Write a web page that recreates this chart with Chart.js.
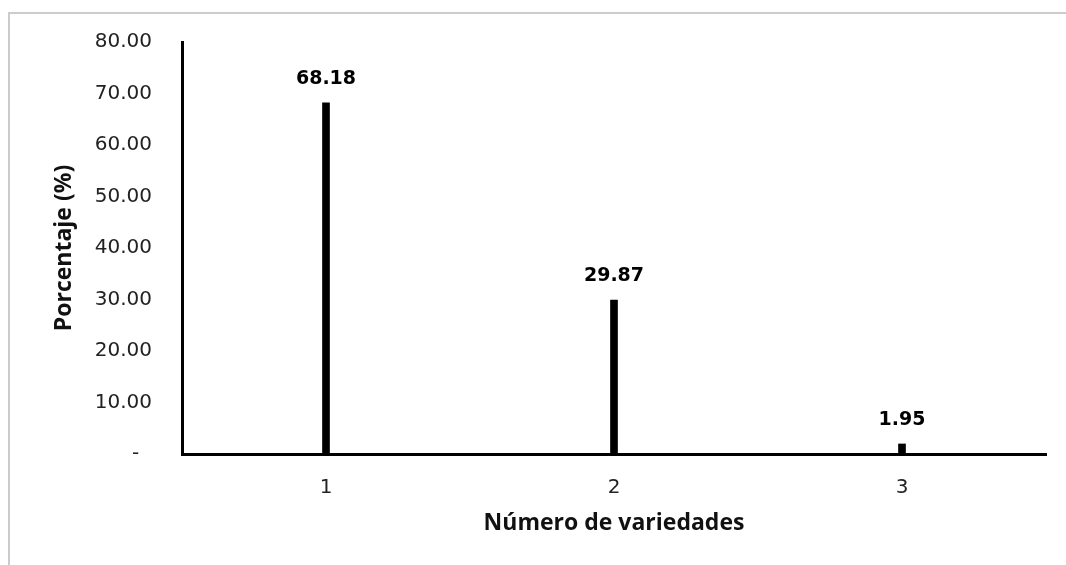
<!DOCTYPE html>
<html>
<head>
<meta charset="utf-8">
<script src="https://cdn.jsdelivr.net/npm/chart.js@4.4.1/dist/chart.umd.min.js"></script>
<style>
  body { margin: 0; background: #fff; }
  #wrap { width: 1066px; height: 565px; position: relative; }
</style>
</head>
<body>
<div id="wrap"><canvas id="myChart"></canvas></div>
<script>
// data
const categories = ['1', '2', '3'];
const percentages = [68.18, 29.87, 1.95];
const yMax = 80;
const yStep = 10;

// light grey frame round the picture (top and left edges only are visible)
const framePlugin = {
    id: 'frame',
    beforeDraw(chart) {
        const c = chart.ctx;
        c.save();
        c.fillStyle = '#fff';
        c.fillRect(0, 0, chart.width, chart.height);
        c.strokeStyle = '#cccccc';
        c.lineWidth = 2;
        c.beginPath();
        c.moveTo(9, chart.height);
        c.lineTo(9, 13);
        c.lineTo(chart.width, 13);
        c.stroke();
        c.restore();
    }
};

// bold value labels above each bar
const valueLabels = {
    id: 'valueLabels',
    afterDatasetsDraw(chart) {
        const c = chart.ctx;
        const meta = chart.getDatasetMeta(0);
        c.save();
        c.font = 'bold 19px "DejaVu Sans"';
        c.fillStyle = '#000';
        c.textAlign = 'center';
        c.textBaseline = 'middle';
        meta.data.forEach((bar, i) => {
            const v = chart.data.datasets[0].data[i];
            c.fillText(v.toFixed(2), bar.x, bar.y - 24);
        });
        c.restore();
    }
};

const ctx = document.getElementById('myChart').getContext('2d');
const chart = new Chart(ctx, {
    type: 'bar',
    data: {
        labels: categories,
        datasets: [{
            label: 'Porcentaje',
            data: percentages,
            backgroundColor: '#000',
            barThickness: 7
        }]
    },
    options: {
        responsive: true,
        maintainAspectRatio: false,
        animation: false,
        layout: {
            padding: { top: 42, right: 20, left: 0, bottom: 0 }
        },
        plugins: {
            legend: { display: false },
            tooltip: { enabled: false }
        },
        scales: {
            x: {
                grid: { display: false, drawTicks: false },
                border: { display: true, color: '#000', width: 3 },
                ticks: {
                    color: '#222',
                    padding: 22,
                    font: { family: 'DejaVu Sans', size: 20 }
                },
                title: {
                    display: true,
                    text: 'Número de variedades',
                    color: '#111',
                    font: { family: 'Open Sans', size: 23, weight: 'bold' },
                    padding: { top: 0, bottom: 28 }
                },
                afterFit(scale) { scale.height = 111; }
            },
            y: {
                min: 0,
                max: yMax,
                grid: { display: false, drawTicks: false },
                border: { display: true, color: '#000', width: 3 },
                ticks: {
                    stepSize: yStep,
                    color: '#222',
                    padding: 30,
                    font: { family: 'DejaVu Sans', size: 20 },
                    callback: v => v === 0 ? '-  ' : v.toFixed(2)
                },
                title: {
                    display: true,
                    text: 'Porcentaje (%)',
                    color: '#111',
                    font: { family: 'Open Sans', size: 23, weight: 'bold' },
                    padding: { top: 51, bottom: 0 }
                },
                afterFit(scale) { scale.width = 182; }
            }
        }
    },
    plugins: [framePlugin, valueLabels]
});
</script>
</body>
</html>
